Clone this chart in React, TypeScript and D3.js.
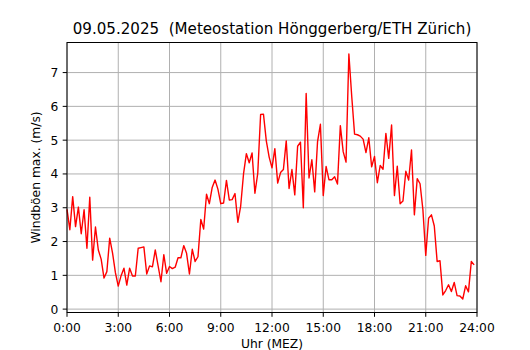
import React from "react";
import * as d3 from "d3";

const TITLE = "09.05.2025  (Meteostation Hönggerberg/ETH Zürich)";
const X_LABEL = "Uhr (MEZ)";
const Y_LABEL = "Windböen max. (m/s)";

// 10-minute values from 00:00 to 23:50
const gusts: number[] = [
  2.95, 2.35, 3.33, 2.44, 3.02, 2.23, 2.94, 1.8, 3.31, 1.45,
  2.43, 1.75, 1.48, 0.92, 1.11, 2.1, 1.66, 1.08, 0.68, 0.99,
  1.21, 0.71, 1.21, 0.98, 0.98, 1.8, 1.82, 1.84, 1.04, 1.28,
  1.25, 1.75, 1.28, 0.81, 1.61, 1.06, 1.26, 1.2, 1.24, 1.52,
  1.52, 1.88, 1.65, 1.04, 1.77, 1.41, 1.55, 2.65, 2.37, 3.4,
  3.12, 3.6, 3.82, 3.55, 3.12, 3.14, 3.81, 3.23, 3.24, 3.42,
  2.57, 3.05, 4.0, 4.6, 4.33, 4.62, 3.43, 4.02, 5.76, 5.77,
  4.98, 4.5, 4.18, 4.75, 3.73, 4.04, 4.13, 4.98, 3.57, 4.13,
  3.38, 4.82, 4.94, 3.0, 6.38, 3.88, 4.42, 3.47, 4.96, 5.47,
  3.36, 4.22, 3.83, 3.83, 3.92, 3.7, 5.43, 4.66, 4.35, 7.55,
  6.3, 5.18, 5.16, 5.12, 5.03, 4.63, 5.07, 4.21, 4.52, 3.74,
  4.25, 4.14, 5.2, 4.46, 5.45, 3.36, 4.23, 3.12, 3.2, 4.08,
  3.82, 4.71, 2.79, 3.86, 3.71, 2.94, 1.59, 2.69, 2.79, 2.46,
  1.41, 1.43, 0.42, 0.55, 0.72, 0.52, 0.79, 0.4, 0.39, 0.3,
  0.69, 0.51, 1.41, 1.31,
];
const STEP_MINUTES = 10;

const xTickHours = [0, 3, 6, 9, 12, 15, 18, 21, 24];
const xTickLabels = ["0:00", "3:00", "6:00", "9:00", "12:00", "15:00", "18:00", "21:00", "24:00"];
const yTicks = [0, 1, 2, 3, 4, 5, 6, 7];

const W = 530;
const H = 350;
const M = { left: 67, right: 477, top: 42.5, bottom: 312.5 };
const FONT = "DejaVu Sans";

export default function App() {
  const x = d3.scaleLinear().domain([0, 24]).range([M.left, M.right]);
  const y = d3.scaleLinear().domain([-0.1, 7.89]).range([M.bottom, M.top]);

  const line = d3
    .line<number>()
    .x((_, i) => x((i * STEP_MINUTES) / 60))
    .y((d) => y(d));

  const tickLen = 4.3;

  return (
    <svg
      width={W}
      height={H}
      style={{ position: "absolute", left: 0, top: 0, background: "#fff" }}
      fontFamily={FONT}
    >
      <rect x={0} y={0} width={W} height={H} fill="#fff" />
      {/* grid */}
      {xTickHours.map((h) => (
        <line key={"gx" + h} x1={x(h)} x2={x(h)} y1={M.top} y2={M.bottom} stroke="#b0b0b0" strokeWidth={1} />
      ))}
      {yTicks.map((v) => (
        <line key={"gy" + v} x1={M.left} x2={M.right} y1={y(v)} y2={y(v)} stroke="#b0b0b0" strokeWidth={1} />
      ))}
      {/* data line */}
      <path d={line(gusts) || ""} fill="none" stroke="#ff0000" strokeWidth={1.4} strokeLinejoin="round" />
      {/* spines */}
      <rect x={M.left} y={M.top} width={M.right - M.left} height={M.bottom - M.top} fill="none" stroke="#000" strokeWidth={1} />
      {/* x ticks */}
      {xTickHours.map((h, i) => (
        <g key={"xt" + h}>
          <line x1={x(h)} x2={x(h)} y1={M.bottom} y2={M.bottom + tickLen} stroke="#000" strokeWidth={1} />
          <text x={x(h)} y={332} textAnchor="middle" fontSize={12.3} fill="#000">
            {xTickLabels[i]}
          </text>
        </g>
      ))}
      {/* y ticks */}
      {yTicks.map((v) => (
        <g key={"yt" + v}>
          <line x1={M.left - tickLen} x2={M.left} y1={y(v)} y2={y(v)} stroke="#000" strokeWidth={1} />
          <text x={M.left - 8.6} y={y(v) + 4.4} textAnchor="end" fontSize={12.3} fill="#000">
            {v}
          </text>
        </g>
      ))}
      {/* labels */}
      <text x={(M.left + M.right) / 2} y={348} textAnchor="middle" fontSize={12.3} fill="#000">
        {X_LABEL}
      </text>
      <text
        transform={`translate(39.5, ${(M.top + M.bottom) / 2}) rotate(-90)`}
        textAnchor="middle"
        fontSize={12.3}
        fill="#000"
      >
        {Y_LABEL}
      </text>
      <text x={(M.left + M.right) / 2} y={34} textAnchor="middle" fontSize={15.1} fill="#000" style={{ whiteSpace: "pre" }}>
        {TITLE}
      </text>
    </svg>
  );
}
